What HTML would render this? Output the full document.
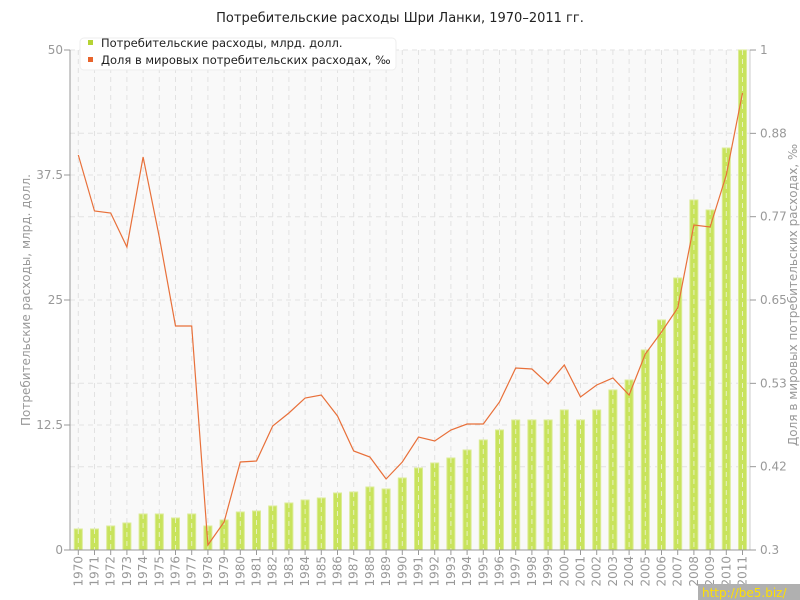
<!DOCTYPE html>
<html><head><meta charset="utf-8"><style>body{margin:0;background:#fff}svg{display:block;font-family:"DejaVu Sans","Liberation Sans",sans-serif}</style></head>
<body>
<svg id="s" width="800" height="600" xmlns="http://www.w3.org/2000/svg">
<rect width="800" height="600" fill="#fff"/>
<text x="400" y="22" text-anchor="middle" font-size="13" fill="#222">Потребительские расходы Шри Ланки, 1970–2011 гг.</text>
<rect x="70" y="50" width="680" height="500" fill="#f9f9f9"/>
<g id="grid" stroke="#e2e2e2" stroke-dasharray="5,4" stroke-width="1"></g>
<g id="bars"></g>
<polyline id="ln" fill="none" stroke="#e8703a" stroke-width="1.2"/>
<line x1="70" y1="50" x2="70" y2="550" stroke="#999"/>
<line x1="750" y1="50" x2="750" y2="550" stroke="#ccc"/>
<line x1="70" y1="550" x2="750" y2="550" stroke="#999"/>
<g id="ax" font-size="12" fill="#999"></g>
<text transform="translate(30,300) rotate(-90)" text-anchor="middle" font-size="12" fill="#999">Потребительские расходы, млрд. долл.</text>
<text transform="translate(797,295) rotate(-90)" text-anchor="middle" font-size="12" fill="#999">Доля в мировых потребительских расходах, ‰</text>
<rect x="80" y="38" width="316" height="32" rx="4" fill="#fff" stroke="#eee"/>
<rect x="88" y="40" width="5" height="5" fill="#b5d334"/>
<text x="101" y="47" font-size="11.5" fill="#222">Потребительские расходы, млрд. долл.</text>
<rect x="88" y="57" width="5" height="5" fill="#e8642c"/>
<text x="101" y="64" font-size="11.5" fill="#222">Доля в мировых потребительских расходах, ‰</text>
<rect x="698" y="584" width="102" height="16" fill="#b0b0b0"/>
<text x="702" y="597" font-size="12" fill="#ffe000">http://be5.biz/</text>
</svg>
<script>
const NS="http://www.w3.org/2000/svg";
function el(t,a,p,txt){const e=document.createElementNS(NS,t);for(const k in a)e.setAttribute(k,a[k]);if(txt!==undefined)e.textContent=txt;document.getElementById(p).appendChild(e);return e;}
const bars=[2.1,2.1,2.4,2.7,3.6,3.6,3.2,3.6,2.4,3.0,3.8,3.9,4.4,4.7,5.0,5.2,5.7,5.8,6.3,6.1,7.2,8.2,8.7,9.2,10.0,11,12,13,13,13,14,13,14,16,17,20,23,27.2,35,34,40.2,50];
const ly=[155,211,213,247,157,237,326,326,545,522,462,461,426,413,398,395,416,451,457,479,462,437,441,430,424,424,402,368,369,384,365,397,385,378,395,354,332,308,225,227,175,93];
const X=i=>78.3+i*16.2;
for(let i=0;i<42;i++){const x=X(i);el('line',{x1:x,y1:50,x2:x,y2:550},'grid');}
[50,133.3,216.7,300,383.3,466.7,175,425].forEach(y=>el('line',{x1:70,y1:y,x2:750,y2:y},'grid'));
let pts=[];
for(let i=0;i<42;i++){const x=X(i),h=bars[i]*10;
el('rect',{x:x-4,y:550-h,width:8,height:h,fill:'#c8e35c',stroke:'#dbeb95','stroke-width':1},'bars');
el('line',{x1:x,y1:550-h,x2:x,y2:550,stroke:'#e8f2c0','stroke-dasharray':'5,4'},'bars');
pts.push(x+','+ly[i]);
const t=el('text',{transform:`translate(${x+4},${556}) rotate(-90)`,'text-anchor':'end'},'ax',String(1970+i));
el('line',{x1:x,y1:550,x2:x,y2:555,stroke:'#999'},'ax');}
document.getElementById('ln').setAttribute('points',pts.join(' '));
[['50',50],['37.5',175],['25',300],['12.5',425],['0',550]].forEach(([t,y])=>{el('text',{x:63,y:y+4,'text-anchor':'end'},'ax',t);el('line',{x1:64,y1:y,x2:70,y2:y,stroke:'#999'},'ax');});
['0.3','0.42','0.53','0.65','0.77','0.88','1'].forEach((t,i)=>{const y=550-i*83.33;el('text',{x:760,y:y+4},'ax',t);el('line',{x1:750,y1:y,x2:756,y2:y,stroke:'#999'},'ax');});
</script>
</body></html>
